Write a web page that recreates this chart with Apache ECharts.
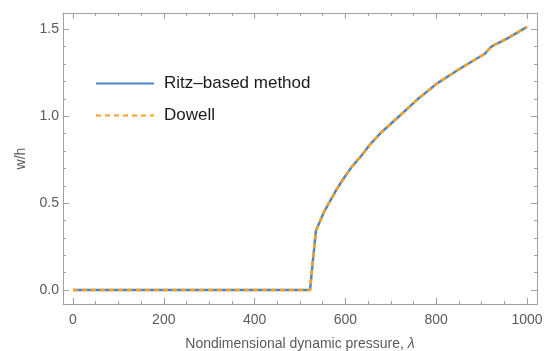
<!DOCTYPE html>
<html>
<head>
<meta charset="utf-8">
<script src="https://cdn.jsdelivr.net/npm/echarts@6/dist/echarts.min.js"></script>
<style>
  html, body { margin: 0; padding: 0; background: #fff; }
  #chart { width: 544px; height: 351px; }
</style>
</head>
<body>
<div id="chart"></div>
<script>
// Nondimensional dynamic pressure λ and deflection w/h
const lambda = [0, 100, 200, 300, 400, 500, 522, 535, 553, 566, 581, 596, 614, 636, 655, 677, 713, 757, 802, 853, 908, 913, 923, 956, 1000];
const ritzW  = [0, 0, 0, 0, 0, 0, 0, 0.341, 0.450, 0.512, 0.581, 0.642, 0.709, 0.776, 0.840, 0.902, 0.987, 1.093, 1.189, 1.275, 1.361, 1.378, 1.403, 1.447, 1.514];
const dowellW = [0, 0, 0, 0, 0, 0, 0, 0.341, 0.450, 0.512, 0.581, 0.642, 0.709, 0.776, 0.840, 0.902, 0.987, 1.093, 1.189, 1.275, 1.361, 1.378, 1.403, 1.447, 1.514];

const seriesNames = ['Ritz\u2013based method', 'Dowell'];

// Tick positions
const xMajor = [0, 200, 400, 600, 800, 1000];
const xMinor = [50, 100, 150, 250, 300, 350, 450, 500, 550, 650, 700, 750, 850, 900, 950];
const yMajor = [0, 0.5, 1.0, 1.5];
const yMinor = [0.1, 0.2, 0.3, 0.4, 0.6, 0.7, 0.8, 0.9, 1.1, 1.2, 1.3, 1.4];

const X_MIN = -22, X_MAX = 1022;
const Y_MIN = -0.08, Y_MAX = 1.594;

const frameColor = '#a0a0a0';
const labelColor = '#5a5a5a';
const font = 'Liberation Sans, Arial, sans-serif';

function xAxisDef(position, ticks, len, showLine, showLabels, extra) {
  return Object.assign({
    type: 'value', position: position, min: X_MIN, max: X_MAX,
    splitLine: { show: false },
    axisLine: { show: showLine, onZero: false, lineStyle: { color: frameColor, width: 1 } },
    axisTick: { show: true, inside: true, length: len, customValues: ticks,
                lineStyle: { color: frameColor, width: 1 } },
    axisLabel: showLabels
      ? { show: true, customValues: ticks, color: labelColor, fontSize: 14, fontFamily: font, margin: 9,
          formatter: v => String(v) }
      : { show: false }
  }, extra || {});
}

function yAxisDef(position, ticks, len, showLine, showLabels, extra) {
  return Object.assign({
    type: 'value', position: position, min: Y_MIN, max: Y_MAX,
    splitLine: { show: false },
    axisLine: { show: showLine, onZero: false, lineStyle: { color: frameColor, width: 1 } },
    axisTick: { show: true, inside: true, length: len, customValues: ticks,
                lineStyle: { color: frameColor, width: 1 } },
    axisLabel: showLabels
      ? { show: true, customValues: ticks, color: labelColor, fontSize: 14, fontFamily: font, margin: 4,
          formatter: v => v.toFixed(1) }
      : { show: false }
  }, extra || {});
}

const chart = echarts.init(document.getElementById('chart'), null, { renderer: 'canvas' });

chart.setOption({
  animation: false,
  backgroundColor: '#ffffff',
  grid: { left: 63, top: 13, right: 7, bottom: 47, containLabel: false, outerBoundsMode: 'none' },
  legend: {
    orient: 'vertical', left: 90, top: 70,
    itemWidth: 58, itemHeight: 14, itemGap: 15,
    itemStyle: { opacity: 0 },
    textStyle: { fontSize: 17, color: '#1a1a1a', fontFamily: font, padding: [0, 0, 0, 5] },
    data: seriesNames
  },
  xAxis: [
    xAxisDef('bottom', xMajor, 6, true, true, {
      name: 'Nondimensional dynamic pressure, {i|\u03bb}',
      nameLocation: 'middle', nameGap: 33,
      nameTextStyle: { color: labelColor, fontSize: 14, fontFamily: font,
        rich: { i: { fontStyle: 'italic', color: labelColor, fontSize: 14, fontFamily: font } } }
    }),
    xAxisDef('bottom', xMinor, 3, false, false),
    xAxisDef('top', xMajor, 6, true, false),
    xAxisDef('top', xMinor, 3, false, false)
  ],
  yAxis: [
    yAxisDef('left', yMajor, 6, true, true, {
      name: 'w/h', nameLocation: 'middle', nameGap: 27, nameRotate: 90,
      nameTextStyle: { color: labelColor, fontSize: 14, fontFamily: font }
    }),
    yAxisDef('left', yMinor, 3, false, false),
    yAxisDef('right', yMajor, 6, true, false),
    yAxisDef('right', yMinor, 3, false, false)
  ],
  series: [
    {
      name: seriesNames[0], type: 'line', symbol: 'none',
      xAxisIndex: 0, yAxisIndex: 0,
      data: lambda.map((x, i) => [x, ritzW[i]]),
      lineStyle: { color: '#4a86c8', width: 2.5 },
      itemStyle: { color: '#4a86c8' }
    },
    {
      name: seriesNames[1], type: 'line', symbol: 'none',
      xAxisIndex: 0, yAxisIndex: 0,
      data: lambda.map((x, i) => [x, dowellW[i]]),
      lineStyle: { color: '#f9a11b', width: 2.5, type: [5, 4] },
      itemStyle: { color: '#f9a11b' }
    }
  ]
});
</script>
</body>
</html>
